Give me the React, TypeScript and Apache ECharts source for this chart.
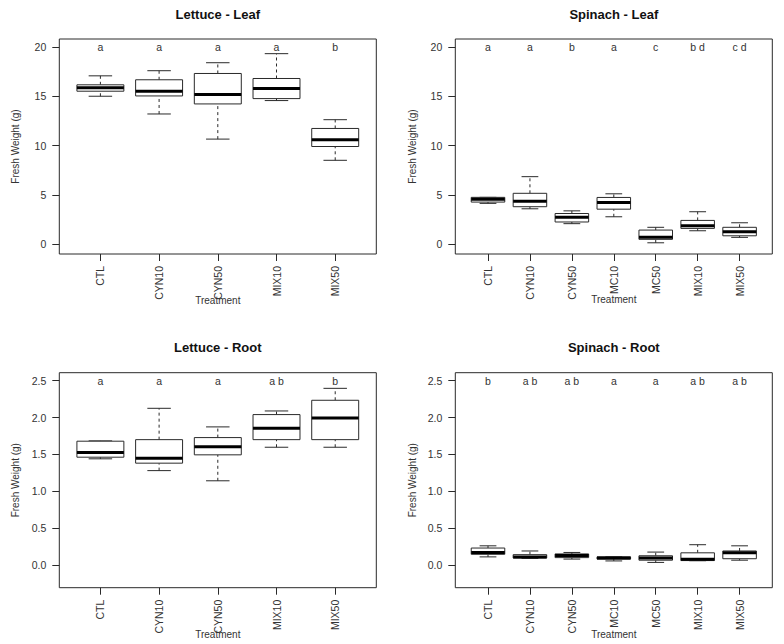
import React, { useEffect, useRef } from "react";
import * as echarts from "echarts";

const lettuceCats = ["CTL", "CYN10", "CYN50", "MIX10", "MIX50"];
const spinachCats = ["CTL", "CYN10", "CYN50", "MC10", "MC50", "MIX10", "MIX50"];

// [min, q1, median, q3, max]
const lettuceLeaf = [
  [15.0, 15.51, 15.85, 16.16, 17.07],
  [13.2, 15.03, 15.51, 16.67, 17.59],
  [10.65, 14.22, 15.17, 17.31, 18.4],
  [14.56, 14.76, 15.78, 16.8, 19.32],
  [8.5, 9.9, 10.58, 11.73, 12.62],
];
const spinachLeaf = [
  [4.13, 4.26, 4.54, 4.74, 4.74],
  [3.58, 3.79, 4.34, 5.15, 6.84],
  [2.07, 2.24, 2.72, 3.1, 3.37],
  [2.77, 3.54, 4.22, 4.73, 5.1],
  [0.13, 0.48, 0.68, 1.42, 1.7],
  [1.35, 1.59, 1.86, 2.4, 3.28],
  [0.68, 0.84, 1.25, 1.7, 2.16],
];
const lettuceRoot = [
  [1.44, 1.462, 1.525, 1.679, 1.683],
  [1.28, 1.381, 1.449, 1.7, 2.125],
  [1.142, 1.494, 1.602, 1.728, 1.873],
  [1.597, 1.7, 1.855, 2.04, 2.089],
  [1.597, 1.7, 1.995, 2.234, 2.396],
];
const spinachRoot = [
  [0.11, 0.145, 0.17, 0.23, 0.26],
  [0.09, 0.095, 0.11, 0.14, 0.19],
  [0.08, 0.1, 0.13, 0.15, 0.17],
  [0.055, 0.08, 0.095, 0.11, 0.11],
  [0.035, 0.065, 0.095, 0.125, 0.175],
  [0.058, 0.06, 0.078, 0.165, 0.275],
  [0.065, 0.085, 0.165, 0.19, 0.26],
];

const lettuceLeafLetters = ["a", "a", "a", "a", "b"];
const spinachLeafLetters = ["a", "a", "b", "a", "c", "b d", "c d"];
const lettuceRootLetters = ["a", "a", "a", "a b", "b"];
const spinachRootLetters = ["b", "a b", "a b", "a", "a", "a b", "a b"];

const leafTicks = [0, 5, 10, 15, 20];
const rootTicks = [0, 0.5, 1.0, 1.5, 2.0, 2.5];

const titles = ["Lettuce - Leaf", "Spinach - Leaf", "Lettuce - Root", "Spinach - Root"];
const yTitle = "Fresh Weight (g)";
const xTitle = "Treatment";

const FONT = "'Liberation Sans', Arial, sans-serif";
const TXT = "#333";
const LINE = "#2a2a2a";

type Panel = {
  cats: string[];
  stats: number[][];
  letters: string[];
  ticks: number[];
  digits: number;
  yMin: number;
  yMax: number;
  letterY: number;
  left: number;
  top: number;
  title: string;
  titleY: number;
  xTitleY: number;
  yTitleX: number;
};

const W = 317;
const H = 215;

const panels: Panel[] = [
  { cats: lettuceCats, stats: lettuceLeaf, letters: lettuceLeafLetters, ticks: leafTicks, digits: 0, yMin: -1.008, yMax: 20.808, letterY: 20, left: 59.3, top: 39, title: titles[0], titleY: 14.5, xTitleY: 300, yTitleX: 15 },
  { cats: spinachCats, stats: spinachLeaf, letters: spinachLeafLetters, ticks: leafTicks, digits: 0, yMin: -1.008, yMax: 20.808, letterY: 20, left: 455.3, top: 39, title: titles[1], titleY: 14.5, xTitleY: 299, yTitleX: 412 },
  { cats: lettuceCats, stats: lettuceRoot, letters: lettuceRootLetters, ticks: rootTicks, digits: 1, yMin: -0.308, yMax: 2.608, letterY: 2.5, left: 59.3, top: 372.7, title: titles[2], titleY: 347.7, xTitleY: 634, yTitleX: 15 },
  { cats: spinachCats, stats: spinachRoot, letters: spinachRootLetters, ticks: rootTicks, digits: 1, yMin: -0.308, yMax: 2.608, letterY: 2.5, left: 455.3, top: 372.7, title: titles[3], titleY: 347.7, xTitleY: 634, yTitleX: 412 },
];

function buildOption() {
  const grid: any[] = [];
  const xAxis: any[] = [];
  const yAxis: any[] = [];
  const series: any[] = [];
  const graphic: any[] = [];

  panels.forEach((p, i) => {
    const n = p.cats.length;
    const ext = 0.04 * n;
    const idxs = p.cats.map((_, k) => k + 1);
    grid.push({
      left: p.left, top: p.top, width: W, height: H,
      show: true, borderColor: LINE, borderWidth: 1, backgroundColor: "transparent",
    });
    xAxis.push({
      type: "value", gridIndex: i, min: 0.5 - ext, max: n + 0.5 + ext,
      splitLine: { show: false },
      axisLine: { show: false, onZero: false },
      axisTick: { show: true, length: 7, customValues: idxs, lineStyle: { color: LINE } },
      axisLabel: {
        customValues: idxs, rotate: 90, margin: 12, fontSize: 10.5, fontFamily: FONT, color: TXT,
        formatter: (v: number) => p.cats[Math.round(v) - 1] ?? "",
      },
    });
    yAxis.push({
      type: "value", gridIndex: i, min: p.yMin, max: p.yMax,
      splitLine: { show: false },
      axisLine: { show: false, onZero: false },
      axisTick: { show: true, length: 7, customValues: p.ticks, lineStyle: { color: LINE } },
      axisLabel: {
        customValues: p.ticks, margin: 13, fontSize: 10.5, fontFamily: FONT, color: TXT,
        formatter: (v: number) => v.toFixed(p.digits),
      },
    });
    series.push({
      type: "custom", xAxisIndex: i, yAxisIndex: i,
      data: p.stats.map((s, k) => [k + 1, ...s]),
      encode: { x: 0, y: [1, 2, 3, 4, 5] },
      renderItem: (params: any, api: any) => {
        const x = api.value(0);
        const vals = [1, 2, 3, 4, 5].map((d) => api.value(d));
        const ys = vals.map((v) => api.coord([x, v])[1]);
        const cx = api.coord([x, vals[0]])[0];
        const half = api.size([0.4, 0])[0];
        const cap = half / 2;
        const thin = { stroke: LINE, lineWidth: 1, fill: null };
        const dash = { stroke: LINE, lineWidth: 1, lineDash: [3, 3], fill: null };
        return {
          type: "group",
          children: [
            { type: "line", shape: { x1: cx, y1: ys[3], x2: cx, y2: ys[4] }, style: dash },
            { type: "line", shape: { x1: cx, y1: ys[0], x2: cx, y2: ys[1] }, style: dash },
            { type: "line", shape: { x1: cx - cap, y1: ys[4], x2: cx + cap, y2: ys[4] }, style: thin },
            { type: "line", shape: { x1: cx - cap, y1: ys[0], x2: cx + cap, y2: ys[0] }, style: thin },
            { type: "rect", shape: { x: cx - half, y: ys[3], width: 2 * half, height: ys[1] - ys[3] }, style: { stroke: LINE, lineWidth: 1, fill: "#fff" } },
            { type: "line", shape: { x1: cx - half, y1: ys[2], x2: cx + half, y2: ys[2] }, style: { stroke: "#000", lineWidth: 3, fill: null } },
          ],
        };
      },
      silent: true,
    });
    series.push({
      type: "custom", xAxisIndex: i, yAxisIndex: i,
      data: p.letters.map((_, k) => [k + 1, p.letterY]),
      encode: { x: 0, y: 1 },
      renderItem: (params: any, api: any) => {
        const pt = api.coord([api.value(0), api.value(1)]);
        return {
          type: "text", x: pt[0], y: pt[1],
          style: {
            text: p.letters[params.dataIndex], fill: TXT, fontSize: 10.5, fontFamily: FONT,
            align: "center", verticalAlign: "middle",
          },
        };
      },
      silent: true,
    });
    const cxp = p.left + W / 2;
    graphic.push({
      type: "text", x: cxp, y: p.titleY,
      style: { text: p.title, fill: "#111", font: `bold 13px ${FONT}`, align: "center", verticalAlign: "middle" },
    });
    graphic.push({
      type: "text", x: cxp, y: p.xTitleY,
      style: { text: xTitle, fill: TXT, font: `10px ${FONT}`, align: "center", verticalAlign: "middle" },
    });
    graphic.push({
      type: "text", x: p.yTitleX, y: p.top + H / 2, rotation: Math.PI / 2,
      style: { text: yTitle, fill: TXT, font: `10px ${FONT}`, align: "center", verticalAlign: "middle" },
    });
  });

  return {
    animation: false,
    backgroundColor: "#fff",
    grid, xAxis, yAxis, series, graphic,
  };
}

export default function App() {
  const ref = useRef<HTMLDivElement>(null);
  useEffect(() => {
    if (!ref.current) return;
    const chart = echarts.init(ref.current, undefined, { renderer: "svg" });
    chart.setOption(buildOption() as any);
    return () => chart.dispose();
  }, []);
  return (
    <div
      ref={ref}
      style={{ position: "fixed", left: 0, top: 0, width: 784, height: 644, background: "#fff" }}
    />
  );
}
